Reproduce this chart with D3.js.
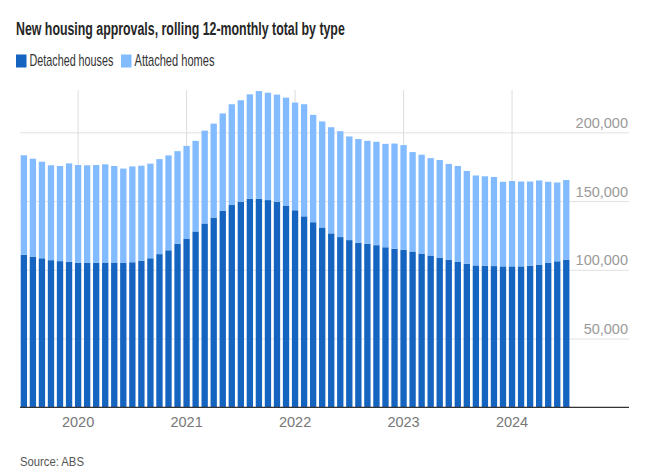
<!DOCTYPE html>
<html>
<head>
<meta charset="utf-8">
<script src="https://cdn.jsdelivr.net/npm/d3@7"></script>
<style>
  html, body { margin: 0; padding: 0; background: #fff; }
  svg { display: block; }
  .title { font-family: "Liberation Sans", "Noto Sans", sans-serif; font-weight: 700; }
  .lbl { font-family: "Liberation Sans", "Noto Sans", sans-serif; }
</style>
</head>
<body>
<svg id="chart" width="660" height="476"></svg>
<script>
// ---- Data ----
const months = [
  "2019-07","2019-08","2019-09","2019-10","2019-11","2019-12",
  "2020-01","2020-02","2020-03","2020-04","2020-05","2020-06","2020-07","2020-08","2020-09","2020-10","2020-11","2020-12",
  "2021-01","2021-02","2021-03","2021-04","2021-05","2021-06","2021-07","2021-08","2021-09","2021-10","2021-11","2021-12",
  "2022-01","2022-02","2022-03","2022-04","2022-05","2022-06","2022-07","2022-08","2022-09","2022-10","2022-11","2022-12",
  "2023-01","2023-02","2023-03","2023-04","2023-05","2023-06","2023-07","2023-08","2023-09","2023-10","2023-11","2023-12",
  "2024-01","2024-02","2024-03","2024-04","2024-05","2024-06","2024-07"
];
const detached = [
  111000,109600,108400,107000,106300,105800,
  105000,105000,105000,105300,105300,105000,105500,106500,108400,111400,114200,119000,
  122400,127900,133700,138000,143000,147100,149500,151700,151700,150700,149500,146400,
  143300,138900,134600,130800,126500,123800,121600,119700,119000,117900,116400,115300,
  114500,113300,111800,110400,108900,107400,105700,104500,103200,103000,102700,102500,
  102500,102500,103000,103800,105000,106200,107400
];
const attached = [
  72300,71200,70200,69000,69200,71600,
  71200,71000,71200,71400,70200,68600,69700,69200,68800,69100,69000,67300,
  67700,65900,67500,68300,70700,73300,73800,75900,78300,78100,77900,78800,
  78300,81500,78100,77100,77200,77000,75400,75400,74800,75200,75200,76500,
  76200,72300,71900,70800,70900,69600,69800,67400,65400,65000,64800,61500,
  62100,61700,61200,61200,59000,57300,57900
];
const seriesNames = ["Detached houses", "Attached homes"];
const seriesColors = ["#1565c0", "#82bbff"];
const yTicks = [50000, 100000, 150000, 200000];
const yearTicks = ["2020-01","2021-01","2022-01","2023-01","2024-01"];

// ---- Layout ----
const svg = d3.select("#chart");
const plotLeft = 20, plotRight = 629, plotTop = 90, plotBottom = 407.3;

// Horizontally squeeze a text to a target width (mimics a condensed face)
function fitText(sel, px, py, width) {
  const natural = sel.node().getComputedTextLength();
  const sx = Math.min(1, width / natural);
  sel.attr("x", 0).attr("y", 0)
     .attr("transform", `translate(${px},${py}) scale(${sx},1)`);
  return sel;
}

const x = d3.scaleBand()
  .domain(months)
  .range([19.34, 570.8])
  .paddingInner(0.3)
  .paddingOuter(0.15);

const y = d3.scaleLinear()
  .domain([0, 200000])
  .range([plotBottom, 132.3]);

const rows = months.map((m, i) => ({ month: m, detached: detached[i], attached: attached[i] }));
const stacked = d3.stack().keys(["detached", "attached"])(rows);

// Title
const title = svg.append("text")
  .attr("class", "title")
  .attr("font-size", 17.5)
  .attr("fill", "#262626")
  .text("New housing approvals, rolling 12-monthly total by type");
fitText(title, 16, 35, 329);

// Legend
const legend = svg.append("g").attr("class", "lbl");
const legendX = [16, 121];
const legendW = [84, 80];
seriesNames.forEach((name, i) => {
  legend.append("rect")
    .attr("x", legendX[i]).attr("y", 54.5)
    .attr("width", 10.5).attr("height", 13)
    .attr("fill", seriesColors[i]);
  const t = legend.append("text")
    .attr("font-size", 16)
    .attr("fill", "#333")
    .text(name);
  fitText(t, legendX[i] + 13.5, 66, legendW[i]);
});

// Vertical year gridlines
const xGrid = svg.append("g")
  .attr("transform", `translate(0,${plotBottom})`)
  .call(d3.axisBottom(x).tickValues(yearTicks).tickSize(-(plotBottom - plotTop)).tickFormat(""));
xGrid.select(".domain").remove();
xGrid.selectAll(".tick line").attr("stroke", "#dcdcdc").attr("stroke-width", 1);

// Horizontal gridlines + labels
const yAxis = svg.append("g")
  .attr("class", "lbl")
  .attr("transform", `translate(${plotRight},0)`)
  .call(d3.axisLeft(y).tickValues(yTicks).tickSize(plotRight - plotLeft).tickFormat(d3.format(",")));
yAxis.select(".domain").remove();
yAxis.selectAll(".tick line").attr("stroke", "#e2e2e2").attr("stroke-width", 1);
yAxis.selectAll(".tick text")
  .attr("x", -1).attr("dy", -5)
  .attr("text-anchor", "end")
  .attr("font-size", 14.5)
  .attr("fill", "#9a9a9a");

// Bars
svg.append("g")
  .selectAll("g")
  .data(stacked)
  .join("g")
  .attr("fill", (d, i) => seriesColors[i])
  .selectAll("rect")
  .data(d => d)
  .join("rect")
  .attr("x", d => x(d.data.month))
  .attr("width", x.bandwidth())
  .attr("y", d => y(d[1]))
  .attr("height", d => y(d[0]) - y(d[1]));

// X axis baseline + year labels
const xAxis = svg.append("g")
  .attr("class", "lbl")
  .attr("transform", `translate(0,${plotBottom})`)
  .call(d3.axisBottom(x).tickValues(yearTicks).tickSize(0).tickFormat(d => d.slice(0, 4)));
xAxis.select(".domain")
  .attr("d", `M${plotLeft},0H${plotRight}`)
  .attr("stroke", "#333").attr("stroke-width", 1.2);
xAxis.selectAll(".tick text")
  .attr("y", 19.5).attr("dy", 0)
  .attr("font-size", 14.5)
  .attr("fill", "#777");

// Source
const source = svg.append("text")
  .attr("class", "lbl")
  .attr("font-size", 13)
  .attr("fill", "#555")
  .text("Source: ABS");
fitText(source, 20, 466, 64);
</script>
</body>
</html>
